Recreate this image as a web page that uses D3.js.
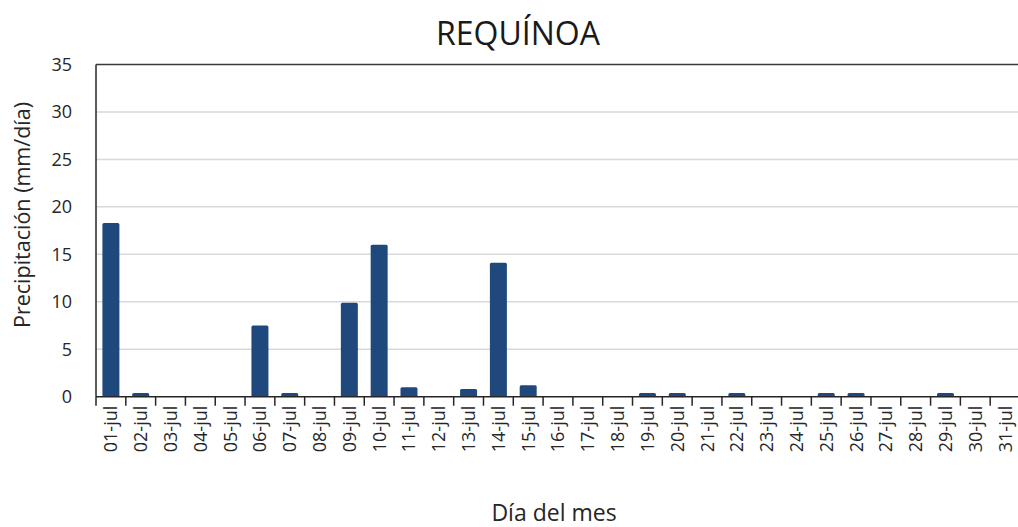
<!DOCTYPE html>
<html>
<head>
<meta charset="utf-8">
<script src="https://cdn.jsdelivr.net/npm/d3@7"></script>
<style>
  html, body { margin: 0; padding: 0; background: #fff; }
  svg { display: block; font-family: "Open Sans", sans-serif; }
</style>
</head>
<body>
<svg id="chart" width="1018" height="527"></svg>
<script>
// Daily precipitation, July
const days = ["01-jul","02-jul","03-jul","04-jul","05-jul","06-jul","07-jul","08-jul",
  "09-jul","10-jul","11-jul","12-jul","13-jul","14-jul","15-jul","16-jul","17-jul",
  "18-jul","19-jul","20-jul","21-jul","22-jul","23-jul","24-jul","25-jul","26-jul",
  "27-jul","28-jul","29-jul","30-jul","31-jul"];
const precip = [18.3, 0.4, 0, 0, 0, 7.5, 0.4, 0, 9.9, 16.0, 1.0, 0, 0.8, 14.1, 1.2, 0,
  0, 0, 0.4, 0.4, 0, 0.4, 0, 0, 0.4, 0.4, 0, 0, 0.4, 0, 0];
const yTicks = [0, 5, 10, 15, 20, 25, 30, 35];

const chartTitle = "REQUÍNOA";
const xTitle = "Día del mes";
const yTitle = "Precipitación (mm/día)";

const svg = d3.select("#chart");
const plotLeft = 96, plotRight = 1020, plotTop = 64.5, plotBottom = 396.7;

const x = d3.scaleBand().domain(days).range([plotLeft, plotRight])
  .paddingInner(0.43).paddingOuter(0.215);
const y = d3.scaleLinear().domain([0, 35]).range([plotBottom, plotTop]);

// horizontal gridlines
svg.append("g").selectAll("line").data(yTicks.filter(t => t > 0 && t < 35)).join("line")
  .attr("x1", plotLeft).attr("x2", plotRight)
  .attr("y1", d => y(d)).attr("y2", d => y(d))
  .attr("stroke", "#d9d9d9").attr("stroke-width", 1.5);

// plot frame: top border and left axis line
svg.append("line").attr("x1", plotLeft).attr("x2", plotRight).attr("y1", y(35)).attr("y2", y(35))
  .attr("stroke", "#3a3a3a").attr("stroke-width", 1.5);
svg.append("line").attr("x1", plotLeft).attr("x2", plotLeft).attr("y1", y(35)).attr("y2", y(0))
  .attr("stroke", "#262626").attr("stroke-width", 1.5);

// bars
svg.append("g").selectAll("rect").data(days).join("rect")
  .attr("x", d => x(d))
  .attr("width", x.bandwidth())
  .attr("y", (d, i) => y(precip[i]))
  .attr("height", (d, i) => y(0) - y(precip[i]))
  .attr("rx", 1.5)
  .attr("fill", "#1f497d");

// y axis labels
const yAxis = d3.axisLeft(y).tickValues(yTicks).tickSize(0).tickPadding(24);
const gy = svg.append("g").attr("transform", `translate(${plotLeft},0)`).call(yAxis);
gy.select(".domain").remove();
gy.selectAll("text").attr("font-size", 18).attr("fill", "#262626")
  .attr("font-family", "Open Sans, sans-serif");

// x axis: baseline, category boundary ticks and rotated labels
svg.append("line").attr("x1", plotLeft).attr("x2", plotRight).attr("y1", y(0)).attr("y2", y(0))
  .attr("stroke", "#262626").attr("stroke-width", 1.5);
const step = x.step();
const bounds = d3.range(days.length + 1).map(i => plotLeft + i * step);
svg.append("g").selectAll("line").data(bounds).join("line")
  .attr("x1", d => d).attr("x2", d => d)
  .attr("y1", y(0)).attr("y2", y(0) + 9)
  .attr("stroke", "#262626").attr("stroke-width", 1.5);

const xAxis = d3.axisBottom(x).tickSize(0).tickPadding(0);
const gx = svg.append("g").attr("transform", `translate(0,${y(0)})`).call(xAxis);
gx.select(".domain").remove();
gx.selectAll("text")
  .attr("font-size", 18).attr("fill", "#262626")
  .attr("font-family", "Open Sans, sans-serif")
  .attr("text-anchor", "end")
  .attr("transform", "translate(0,9) rotate(-90)")
  .attr("x", 0).attr("y", 0).attr("dy", "0.36em");

// titles
svg.append("text").attr("x", 518).attr("y", 45).attr("text-anchor", "middle")
  .attr("font-size", 32).attr("fill", "#1a1a1a").text(chartTitle);
svg.append("text").attr("x", 554).attr("y", 521).attr("text-anchor", "middle")
  .attr("font-size", 23).attr("fill", "#262626").text(xTitle);
svg.append("text").attr("transform", "translate(30,215) rotate(-90)")
  .attr("text-anchor", "middle").attr("font-size", 21.5).attr("fill", "#262626").text(yTitle);
</script>
</body>
</html>
